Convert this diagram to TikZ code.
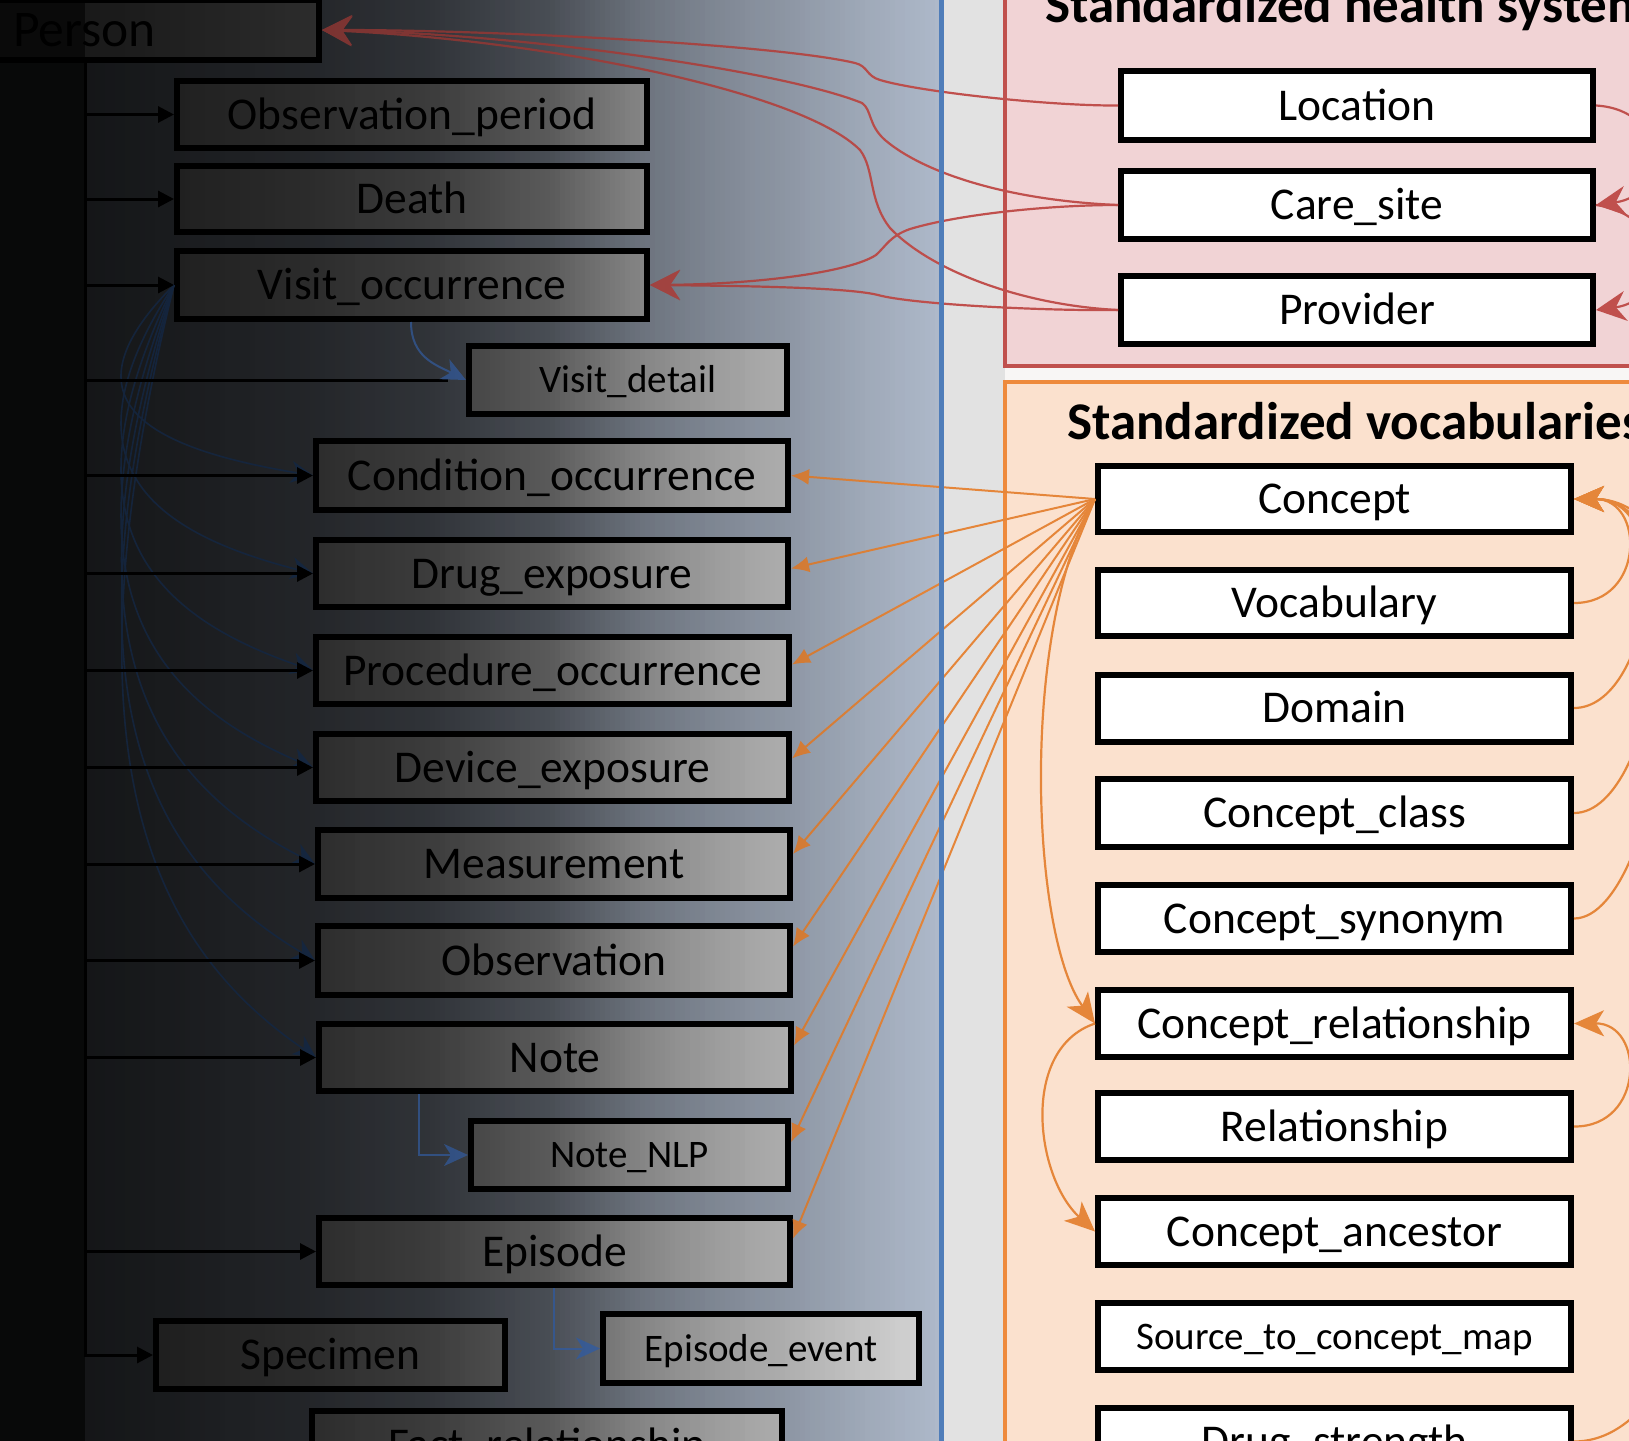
\documentclass[tikz,border=0pt]{standalone}
\usepackage{fontspec}
\setmainfont{Carlito}
\usetikzlibrary{arrows.meta}
\definecolor{bgbase}{HTML}{B0BBCC}
\definecolor{boxgray}{HTML}{D9D9D9}
\definecolor{stripgray}{HTML}{E2E2E2}
\definecolor{rightbg}{HTML}{F8F6F5}
\definecolor{pinkfill}{HTML}{F1D3D5}
\definecolor{redline}{HTML}{C0504D}
\definecolor{peach}{HTML}{FBE1CE}
\definecolor{orangeline}{HTML}{EE8A3C}
\definecolor{oconn}{HTML}{E5863A}
\definecolor{blueline}{HTML}{4F7DB9}
\definecolor{navyc}{HTML}{223C62}
\definecolor{bluec}{HTML}{4A76BE}
\newcommand\ovlcalc[1]{%
\pgfmathsetmacro\ovla{(#1<85) ? 0.95 : ((#1<174) ? (0.88-0.03*(#1-85)/89) : ((#1<300) ? (0.85-0.05*(#1-174)/126) : ((#1<430) ? (0.80-0.08*(#1-300)/130) : ((#1<550) ? (0.72-0.14*(#1-430)/120) : ((#1<643) ? (0.58-0.20*(#1-550)/93) : ((#1<720) ? (0.38-0.11*(#1-643)/77) : ((#1<790) ? (0.27-0.08*(#1-720)/70) : ((#1<860) ? (0.19-0.09*(#1-790)/70) : ((#1<920) ? (0.10-0.07*(#1-860)/60) : max(0,0.03-0.03*(#1-920)/25))))))))))}%
}
\tikzset{
  lbox/.style={draw=black, line width=6pt, fill=boxgray, inner sep=0pt, text=black,
    font=\fontsize{45.5}{50}\selectfont, text height=29pt, text depth=0pt},
  rbox/.style={lbox, fill=white},
  smalltxt/.style={font=\fontsize{39}{44}\selectfont, text height=25pt},
  titletxt/.style={anchor=base west, inner sep=0pt, font=\bfseries\fontsize{53}{58}\selectfont},
  trunkline/.style={line width=3pt, black},
  tarr/.style={trunkline, -{Triangle[length=16pt,width=16pt]}},
  navyfan/.style={draw=navyc, line width=1.6pt, -{Stealth[length=22pt,width=22pt,inset=7pt]}},
  bluearr/.style={draw=bluec, line width=2pt, -{Stealth[length=24pt,width=22pt,inset=7pt]}},
  redc/.style={draw=redline, line width=2.2pt, -{Stealth[length=30pt,width=30pt,inset=10pt]}},
  ofan/.style={draw=oconn, line width=2pt, -{Latex[length=18pt,width=16pt]}},
  ovoc/.style={draw=oconn, line width=2.2pt, -{Stealth[length=30pt,width=26pt,inset=8pt]}},
}
\begin{document}
\begin{tikzpicture}[x=1pt,y=-1pt]
\useasboundingbox (0,0) rectangle (1629,1440);
\clip (0,0) rectangle (1629,1440);
% backgrounds
\fill[bgbase] (0,-5) rectangle (941,1445);
\fill[rightbg] (941,-5) rectangle (1640,1445);
\fill[stripgray] (941,-5) rectangle (1005,1445);
\draw[redline, line width=4pt, fill=pinkfill] (1005,-20) rectangle (1700,366);
\draw[orangeline, line width=4pt, fill=peach] (1005,382) rectangle (1700,1500);
\node[titletxt] (t1) at (1045,22) {Standardized health system};
\node[titletxt] (t2) at (1067,439) {Standardized vocabularies};
% left boxes
\node[lbox, minimum width=336pt, minimum height=60pt, font=\fontsize{51.5}{56}\selectfont, text height=33pt, text width=276pt, align=left, inner xsep=30pt] (per) at (151,30) {Person};
\node[lbox, minimum width=470pt, minimum height=67pt] (obs) at (412,114.5) {Observation\_period};
\node[lbox, minimum width=470pt, minimum height=66pt] (death) at (412,199) {Death};
\node[lbox, minimum width=470pt, minimum height=68pt] (vo) at (412,285) {Visit\_occurrence};
\node[lbox, smalltxt, minimum width=318pt, minimum height=68pt] (vd) at (628,380) {Visit\_detail};
\node[lbox, minimum width=472pt, minimum height=69pt] (cond) at (552,475.5) {Condition\_occurrence};
\node[lbox, minimum width=472pt, minimum height=67pt] (drug) at (552,573.5) {Drug\_exposure};
\node[lbox, minimum width=473pt, minimum height=67pt] (proc) at (552.5,670.5) {Procedure\_occurrence};
\node[lbox, minimum width=473pt, minimum height=67pt] (dev) at (552.5,767.5) {Device\_exposure};
\node[lbox, minimum width=472pt, minimum height=68pt] (meas) at (554,864) {Measurement};
\node[lbox, minimum width=472pt, minimum height=69pt] (obsv) at (554,960.5) {Observation};
\node[lbox, minimum width=472pt, minimum height=67pt] (note) at (555,1057.5) {Note};
\node[lbox, smalltxt, minimum width=317pt, minimum height=68pt] (nlp) at (629.5,1155) {Note\_NLP};
\node[lbox, minimum width=471pt, minimum height=67pt] (epi) at (554.5,1251.5) {Episode};
\node[lbox, minimum width=349pt, minimum height=68pt] (spec) at (330.5,1355) {Specimen};
\node[lbox, smalltxt, minimum width=316pt, minimum height=69pt] (epev) at (761,1348.5) {Episode\_event};
\node[lbox, minimum width=470pt, minimum height=67pt] (fact) at (547,1444.5) {Fact\_relationship};
% right boxes
\node[rbox, minimum width=472pt, minimum height=69pt] (loc) at (1357,105.5) {Location};
\node[rbox, minimum width=472pt, minimum height=68pt] (cs) at (1357,205) {Care\_site};
\node[rbox, minimum width=472pt, minimum height=68pt] (prov) at (1357,310) {Provider};
\node[rbox, minimum width=473pt, minimum height=66pt] (con) at (1334.5,499) {Concept};
\node[rbox, minimum width=473pt, minimum height=66pt] (voc) at (1334.5,603) {Vocabulary};
\node[rbox, minimum width=473pt, minimum height=67pt] (dom) at (1334.5,708) {Domain};
\node[rbox, minimum width=473pt, minimum height=68pt] (cls) at (1334.5,813) {Concept\_class};
\node[rbox, minimum width=473pt, minimum height=67pt] (syn) at (1334.5,918.5) {Concept\_synonym};
\node[rbox, minimum width=473pt, minimum height=67pt] (cr) at (1334.5,1023.5) {Concept\_relationship};
\node[rbox, minimum width=473pt, minimum height=67pt] (rel) at (1334.5,1126.5) {Relationship};
\node[rbox, minimum width=473pt, minimum height=67pt] (ca) at (1334.5,1231.5) {Concept\_ancestor};
\node[rbox, smalltxt, minimum width=473pt, minimum height=67pt] (s2c) at (1334.5,1336.5) {Source\_to\_concept\_map};
\node[rbox, minimum width=473pt, minimum height=67pt] (ds) at (1334.5,1441.5) {Drug\_strength};
% overlay pass 1
\foreach \xs in {0,5,...,940}{%
  \pgfmathsetmacro\xm{\xs+2.5}%
  \ovlcalc{\xm}%
  \pgfmathsetmacro\aone{1-(1-\ovla)/(1-0.45*\ovla)}%
  \fill[black, fill opacity=\aone] (\xs,-5) rectangle ({\xs+5},1445);
}
% navy fan from Visit_occurrence
\draw[navyfan] (vo.west) .. controls +(-114,114) and +(-170,-28) .. (cond.west);
\draw[navyfan] (vo.west) .. controls +(-114,173) and +(-170,-43) .. (drug.west);
\draw[navyfan] (vo.west) .. controls +(-114,231) and +(-170,-58) .. (proc.west);
\draw[navyfan] (vo.west) .. controls +(-114,289) and +(-170,-72) .. (dev.west);
\draw[navyfan] (vo.west) .. controls +(-114,347) and +(-170,-87) .. (meas.west);
\draw[navyfan] (vo.west) .. controls +(-114,405) and +(-170,-101) .. (obsv.west);
\draw[navyfan] (vo.west) .. controls +(-114,463) and +(-170,-116) .. (note.west);
% trunk
\coordinate (tk) at (85,1355);
\draw[tarr] (per.south west -| tk) -- (tk) -- (spec.west);
\foreach \b in {obs,death,vo,cond,drug,proc,dev,meas,obsv,note,epi}
  \draw[tarr] (tk |- \b.west) -- (\b.west);
\draw[trunkline] (tk |- vd.west) -- ([xshift=-18pt]vd.west);
% blue links
\draw[bluearr] ([xshift=-1pt]vo.south) .. controls +(0,35) and +(-30,-15) .. (vd.west);
\draw[bluearr] ([xshift=-136pt]note.south) |- (nlp.west);
\draw[bluearr] ([xshift=-0.5pt]epi.south) |- (epev.west);
% red links
\draw[redc] (loc.west) .. controls (1050,106) and (920,92) .. (880,80) .. controls (866,76) and (868,66) .. (855,63) .. controls (780,45) and (500,30) .. (per.east);
\draw[redc] (cs.west) .. controls (1000,200) and (920,170) .. (885,140) .. controls (868,125) and (872,110) .. (862,103) .. controls (780,70) and (520,34) .. (per.east);
\draw[redc] (prov.west) .. controls (1020,305) and (930,270) .. (890,228) .. controls (868,200) and (875,170) .. (860,150) .. controls (800,90) and (540,40) .. (per.east);
\draw[redc] (cs.west) .. controls (1050,205) and (960,214) .. (910,229) .. controls (890,236) and (886,246) .. (876,255) .. controls (850,272) and (760,284) .. (vo.east);
\draw[redc] (prov.west) .. controls (1040,311) and (910,304) .. (878,295) .. controls (850,288) and (760,286) .. (vo.east);
\draw[redc] (loc.east) .. controls (1670,110) and (1670,195) .. (cs.east);
\draw[redc] (cs.east) .. controls (1670,215) and (1670,300) .. (prov.east);
% orange fan from Concept
\foreach \tgt/\dy in {cond/0,drug/5,proc/6,dev/9,meas/10,obsv/14,note/12,nlp/13,epi/13}
  \draw[ofan] (con.west) -- ([yshift=\dy pt]\tgt.east);
% vocabulary links
\draw[ovoc] (con.west) .. controls +(-75,130) and +(-65,-90) .. (cr.west);
\draw[ovoc] (cr.west) .. controls +(-75,25) and +(-60,-55) .. (ca.west);
\draw[ovoc] (voc.east) .. controls (1645,603) and (1645,499) .. (con.east);
\draw[ovoc] (dom.east) .. controls (1650,708) and (1680,499) .. (con.east);
\draw[ovoc] (cls.east) .. controls (1660,813) and (1700,499) .. (con.east);
\draw[ovoc] (syn.east) .. controls (1665,918) and (1720,499) .. (con.east);
\draw[ovoc] (rel.east) .. controls (1645,1127) and (1645,1023) .. (cr.east);
\draw[ovoc] (ds.east) .. controls (1800,1441) and (1800,499) .. (con.east);
% overlay pass 2
\foreach \xs in {0,5,...,940}{%
  \pgfmathsetmacro\xm{\xs+2.5}%
  \ovlcalc{\xm}%
  \pgfmathsetmacro\atwo{0.45*\ovla}%
  \fill[black, fill opacity=\atwo] (\xs,-5) rectangle ({\xs+5},1445);
}
\draw[blueline, line width=5pt] (941,-5) -- (941,1445);
\end{tikzpicture}
\end{document}
